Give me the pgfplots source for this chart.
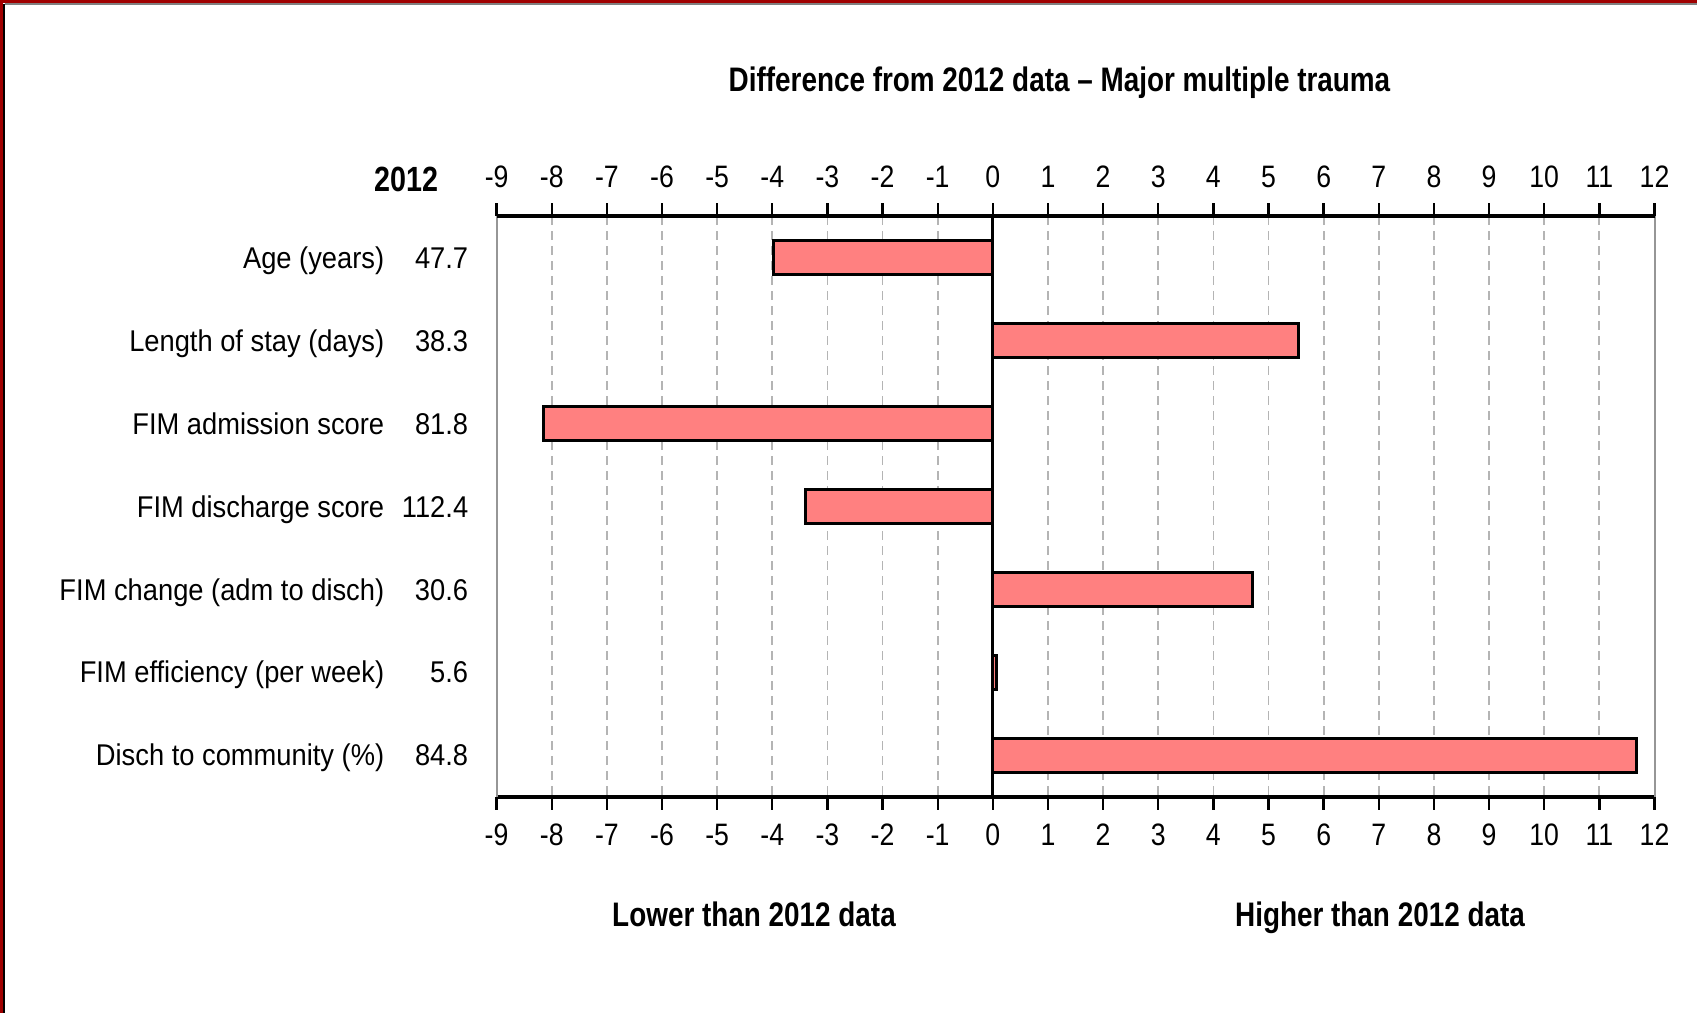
\documentclass[border=0pt]{standalone}
\usepackage{pgfplots}
\pgfplotsset{compat=1.18}
\usepackage{fontspec}
\setmainfont{Liberation Sans}[FakeStretch=0.86, BoldFeatures={FakeStretch=0.82}]
\newfontfamily\labfont{Liberation Sans}[FakeStretch=0.91]
\definecolor{barpink}{RGB}{255,128,128}
\definecolor{gridgray}{RGB}{180,180,180}
\definecolor{sidegray}{RGB}{150,150,150}
\definecolor{framered}{RGB}{160,0,0}
\newcommand{\lab}[2]{\makebox[180pt][r]{#1}\makebox[42pt][r]{#2}}
\begin{document}
\begin{tikzpicture}
\useasboundingbox (0,0) rectangle (848.5pt,506.5pt);
\pgfplotsset{
 common/.style={
  scale only axis, width=578.95pt, height=290.3pt,
  at={(248.3pt,108.2pt)}, anchor=south west,
  xmin=-9, xmax=12, ymin=0.5, ymax=7.5, y dir=reverse,
  xtick={-9,-8,-7,-6,-5,-4,-3,-2,-1,0,1,2,3,4,5,6,7,8,9,10,11,12},
  xticklabels={-9,-8,-7,-6,-5,-4,-3,-2,-1,0,1,2,3,4,5,6,7,8,9,10,11,12},
  tick align=outside, major tick length=6.5pt,
  xtick style={black, line width=1.2pt},
  xticklabel style={font=\fontsize{15.5pt}{18pt}\selectfont, inner sep=0pt},
 }
}
\begin{axis}[common,
  separate axis lines,
  x axis line style={black, line width=2pt},
  y axis line style={sidegray, line width=1pt},
  xtick pos=both, xticklabel pos=left,
  xticklabel style={yshift=-7pt},
  xmajorgrids,
  major x grid style={gridgray, line width=0.9pt, dash pattern=on 4.5pt off 3pt},
  ytick={1,2,3,4,5,6,7}, ytick style={draw=none},
  yticklabels={\lab{Age (years)}{47.7},\lab{Length of stay (days)}{38.3},\lab{FIM admission score}{81.8},\lab{FIM discharge score}{112.4},\lab{FIM change (adm to disch)}{30.6},\lab{FIM efficiency (per week)}{5.6},\lab{Disch to community (\%)}{84.8}},
  yticklabel style={font=\labfont\fontsize{15pt}{18pt}\selectfont, anchor=base east, inner sep=0pt, xshift=-7.5pt, yshift=-5.4pt},
  xbar, bar width=17pt,
]
\addplot[xbar, fill=barpink, draw=black, line width=1.5pt] coordinates {
(-3.97,1) (5.55,2) (-8.15,3) (-3.40,4) (4.71,5) (0.07,6) (11.68,7)};
\draw[black, line width=1.5pt] (axis cs:0,0.5) -- (axis cs:0,7.5);
\end{axis}
\begin{axis}[common,
  axis x line*=top, axis y line=none,
  x axis line style={black, line width=2pt},
  xticklabel pos=right,
  xticklabel style={yshift=7.6pt},
  ytick=\empty,
]
\end{axis}
\node[anchor=base, inner sep=0pt, font=\bfseries\fontsize{17pt}{20pt}\selectfont] at (529.75pt,460.65pt) {Difference from 2012 data – Major multiple trauma};
\node[anchor=base east, inner sep=0pt, font=\bfseries\fontsize{17.5pt}{20pt}\selectfont] at (219.5pt,410.7pt) {2012};
\node[anchor=base, inner sep=0pt, font=\bfseries\fontsize{17pt}{20pt}\selectfont] at (377pt,43.25pt) {Lower than 2012 data};
\node[anchor=base, inner sep=0pt, font=\bfseries\fontsize{17pt}{20pt}\selectfont] at (690pt,43.25pt) {Higher than 2012 data};
\fill[framered] (0,0) rectangle (1.4pt,506.5pt);
\fill[black] (1.4pt,0) rectangle (2.5pt,504.5pt);
\fill[framered] (0,504.8pt) rectangle (848.5pt,506.5pt);
\fill[gray] (2.5pt,504.2pt) rectangle (848.5pt,504.8pt);
\end{tikzpicture}
\end{document}
